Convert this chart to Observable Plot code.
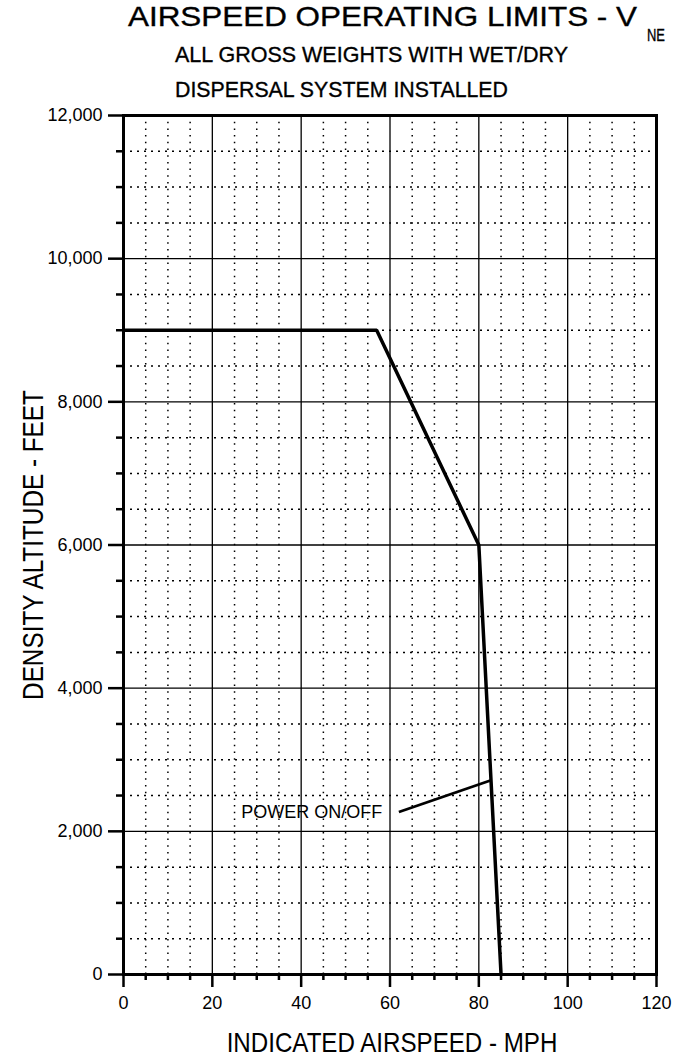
<!DOCTYPE html>
<html>
<head>
<meta charset="utf-8">
<script src="https://cdn.jsdelivr.net/npm/d3@7"></script>
<script src="https://cdn.jsdelivr.net/npm/@observablehq/plot@0.6"></script>
<style>
  html, body { margin: 0; padding: 0; background: #fff; }
  body { width: 674px; font-family: "Liberation Sans", Arial, sans-serif; color: #000; }
  #hdr { position: relative; width: 674px; height: 100px; overflow: visible; }
  #hdr span { position: absolute; white-space: nowrap; transform-origin: 0 0; -webkit-text-stroke: 0.35px #000; }
  #chart svg { display: block; }
</style>
</head>
<body>
<div id="hdr"></div>
<div id="chart"></div>
<script>
// ---- data ----
const titleMain = "AIRSPEED OPERATING LIMITS - V";
const titleSub = "NE";
const subtitle1 = "ALL GROSS WEIGHTS WITH WET/DRY";
const subtitle2 = "DISPERSAL SYSTEM INSTALLED";
const xLabel = "INDICATED AIRSPEED - MPH";
const yLabel = "DENSITY ALTITUDE - FEET";

// never-exceed boundary (MPH, feet)
const vneSpeed    = [0,    57,   80,   85];
const vneAltitude = [9000, 9000, 6000, 0];

// annotation
const noteText = ["POWER ON/OFF"];
const noteX = [26.5];
const noteY = [2270];
const leaderFrom = [{x: 62, y: 2270}];
const leaderTo   = [{x: 82.6, y: 2710}];

// ticks
const xMajor = [0, 20, 40, 60, 80, 100, 120];
const xMinor = [5, 10, 15, 25, 30, 35, 45, 50, 55, 65, 70, 75, 85, 90, 95, 105, 110, 115];
const yMajor = [0, 2000, 4000, 6000, 8000, 10000, 12000];
const yMinor = [500, 1000, 1500, 2500, 3000, 3500, 4500, 5000, 5500, 6500, 7000, 7500,
                8500, 9000, 9500, 10500, 11000, 11500];

// ---- tables ----
const curve = vneSpeed.map((x, i) => ({x, y: vneAltitude[i]}));
const notes = noteText.map((t, i) => ({text: t, x: noteX[i], y: noteY[i]}));
const leaders = leaderFrom.map((d, i) => ({x1: d.x, y1: d.y, x2: leaderTo[i].x, y2: leaderTo[i].y}));

// ---- header ----
const hdr = document.getElementById("hdr");
function place(text, left, right, baseline, size) {
  const s = document.createElement("span");
  s.textContent = text;
  s.style.fontSize = size + "px";
  s.style.lineHeight = size + "px";
  s.style.left = left + "px";
  s.style.top = (baseline - 0.8465 * size) + "px";
  hdr.appendChild(s);
  const w = s.getBoundingClientRect().width;
  s.style.transform = `scaleX(${(right - left) / w})`;
}
place(titleMain, 128, 637, 27, 28);
place(titleSub, 647, 665, 41, 17);
place(subtitle1, 175, 568, 63, 22.5);
place(subtitle2, 175, 508, 98, 22.5);

// ---- chart ----
const chart = Plot.plot({
  width: 674,
  height: 957,
  marginTop: 15,
  marginBottom: 83,
  marginLeft: 123,
  marginRight: 18,
  style: {fontFamily: "'Liberation Sans', Arial, sans-serif", fontSize: "18px", color: "#000", background: "#fff"},
  x: {domain: [0, 120]},
  y: {domain: [0, 12000]},
  marks: [
    Plot.gridX({ticks: xMinor, stroke: "#000", strokeOpacity: 1, strokeWidth: 1.5, strokeDasharray: "1.5,5.2"}),
    Plot.gridY({ticks: yMinor, stroke: "#000", strokeOpacity: 1, strokeWidth: 1.5, strokeDasharray: "2,5"}),
    Plot.gridX({ticks: xMajor, stroke: "#000", strokeOpacity: 1, strokeWidth: 1.3}),
    Plot.gridY({ticks: yMajor, stroke: "#000", strokeOpacity: 1, strokeWidth: 1.3}),
    Plot.frame({stroke: "#000", strokeWidth: 3}),
    Plot.axisX({ticks: xMinor, tickSize: 6, tickFormat: () => "", strokeWidth: 2.5, label: null}),
    Plot.axisX({ticks: xMajor, tickSize: 13, tickPadding: 9, tickFormat: d => String(d), strokeWidth: 2.5, label: null, fontSize: 18}),
    Plot.axisY({ticks: yMinor, tickSize: 7, tickFormat: () => "", strokeWidth: 2.5, label: null}),
    Plot.axisY({ticks: yMajor, tickSize: 15, tickPadding: 6, tickFormat: d3.format(","), strokeWidth: 2.5, label: null, fontSize: 18}),
    Plot.line(curve, {x: "x", y: "y", stroke: "#000", strokeWidth: 3.5, strokeLinejoin: "miter"}),
    Plot.link(leaders, {x1: "x1", y1: "y1", x2: "x2", y2: "y2", stroke: "#000", strokeWidth: 2.8}),
    Plot.text(notes, {x: "x", y: "y", text: "text", textAnchor: "start", fontSize: 18, fill: "#000"}),
    Plot.text([xLabel], {frameAnchor: "bottom", lineAnchor: "bottom", textAnchor: "middle", dy: 77, dx: 2, fontSize: 28, fill: "#000"}),
    Plot.text([yLabel], {frameAnchor: "left", lineAnchor: "bottom", textAnchor: "middle", rotate: -90, dx: -81, fontSize: 30, fill: "#000"})
  ]
});
document.getElementById("chart").appendChild(chart);

// condense texts along their own direction to the reference widths
function condense(el, target) {
  const natural = el.getComputedTextLength();
  const f = target / natural;
  const x = +el.getAttribute("x") || 0;
  const y = +el.getAttribute("y") || 0;
  const t = el.getAttribute("transform") || "";
  el.setAttribute("transform", `${t} translate(${x},${y}) scale(${f},1) translate(${-x},${-y})`);
}
d3.select(chart).selectAll("text").each(function() {
  const t = this.textContent;
  if (t === xLabel) condense(this, 331);
  if (t === yLabel) condense(this, 310);
  if (t === noteText[0]) condense(this, 141);
});
</script>
</body>
</html>
